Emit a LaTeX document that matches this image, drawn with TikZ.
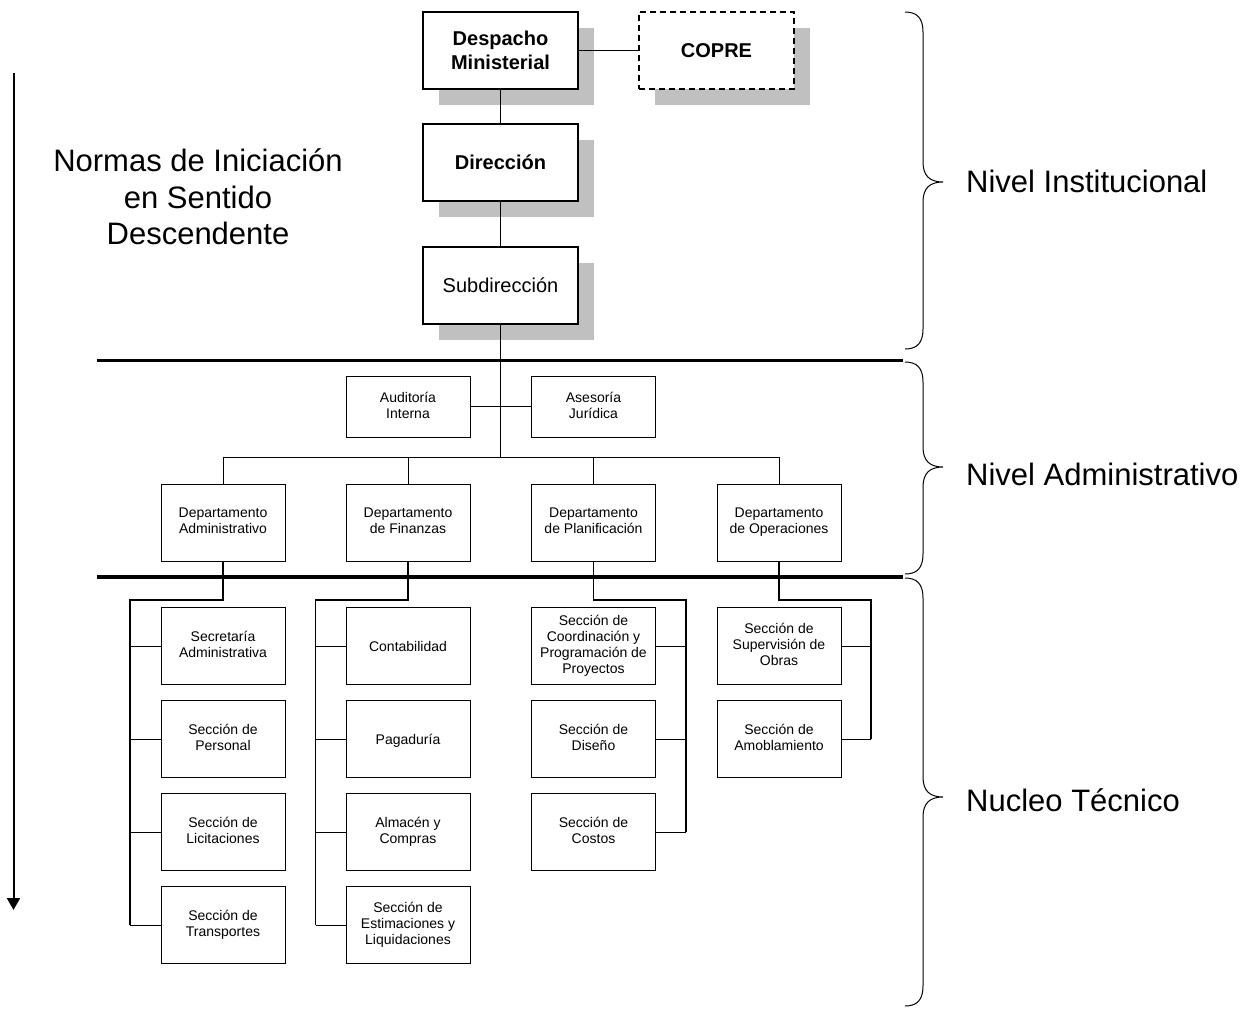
\documentclass[tikz,border=0pt]{standalone}
\usepackage{fontspec}
\setmainfont{Liberation Sans}
\usetikzlibrary{arrows.meta,shadows}
\definecolor{shadowgray}{RGB}{192,192,192}
% line strut for the unit boxes: 13pt above, 3pt below the baseline
\newcommand{\unitstrut}{\rule[-3pt]{0pt}{16pt}}

\begin{document}
\begin{tikzpicture}[x=1pt,y=-1pt,
  topbox/.style={draw, line width=1.2pt, fill=white, minimum width=155pt, minimum height=77pt,
    inner sep=0pt, align=center, font=\fontsize{20}{24}\selectfont,
    drop shadow={shadow xshift=16pt, shadow yshift=-16pt, fill=shadowgray, opacity=1}},
  unitbox/.style={draw, line width=1pt, fill=white, minimum width=124pt, minimum height=77pt,
    inner sep=0pt, align=center, font=\fontsize{14}{16}\selectfont,
    execute at begin node=\unitstrut, execute at end node=\unitstrut},
  staffbox/.style={unitbox, minimum height=61pt},
  link/.style={line width=0.9pt},
  trunk/.style={line width=1.9pt},
  divider/.style={line width=3.5pt},
  bracepath/.style={line width=1pt},
  levellabel/.style={anchor=west, inner sep=0pt, font=\fontsize{31}{37}\selectfont}]

\useasboundingbox (0,0) rectangle (1243,1010);

% --- upper management ---
\node[topbox] (desp) at (500.5,50.5) {\bfseries Despacho\\\bfseries Ministerial};
\node[topbox, dashed, dash pattern=on 6pt off 4pt] (copre) at (716.5,50.5) {\bfseries COPRE};
\node[topbox] (dir) at (500.5,162.5) {\bfseries Dirección};
\node[topbox] (sub) at (500.5,285.5) {Subdirección};

\draw[link] (desp) -- (dir);
\draw[link] (dir) -- (sub);
\draw[link] (desp.east) -- (copre.west);

% --- horizontal level dividers ---
\coordinate (d1l) at (97,360.5);  \coordinate (d1r) at (903,360.5);
\coordinate (d2l) at (97,577);    \coordinate (d2r) at (903,577);

% --- staff units and departments ---
\node[staffbox] (aud) at (408,406.5) {Auditoría\\Interna};
\node[staffbox] (ase) at (593.5,406.5) {Asesoría\\Jurídica};

\node[unitbox] (dadm) at (223,522.5) {Departamento\\Administrativo};
\node[unitbox] (dfin) at (408,522.5) {Departamento\\de Finanzas};
\node[unitbox] (dpla) at (593.5,522.5) {Departamento\\de Planificación};
\node[unitbox] (dope) at (779,522.5) {Departamento\\de Operaciones};

\coordinate (bar) at (500.5,457);
\draw[trunk] (sub.south) -- (sub.south |- bar);
\draw[link] (aud) -- (ase);
\draw[link] (dadm.north) -- (dadm.north |- bar) -- (dope.north |- bar) -- (dope.north);
\draw[link] (dfin.north) -- (dfin.north |- bar);
\draw[link] (dpla.north) -- (dpla.north |- bar);

% --- sections ---
\node[unitbox] (a1) at (223,646) {Secretaría\\Administrativa};
\node[unitbox] (a2) at (223,739) {Sección de\\Personal};
\node[unitbox] (a3) at (223,832) {Sección de\\Licitaciones};
\node[unitbox] (a4) at (223,925) {Sección de\\Transportes};

\node[unitbox] (f1) at (408,646) {Contabilidad};
\node[unitbox] (f2) at (408,739) {Pagaduría};
\node[unitbox] (f3) at (408,832) {Almacén y\\Compras};
\node[unitbox] (f4) at (408,925) {Sección de\\Estimaciones y\\Liquidaciones};

\node[unitbox] (p1) at (593.5,646) {Sección de\\Coordinación y\\Programación de\\Proyectos};
\node[unitbox] (p2) at (593.5,739) {Sección de\\Diseño};
\node[unitbox] (p3) at (593.5,832) {Sección de\\Costos};

\node[unitbox] (o1) at (779,646) {Sección de\\Supervisión de\\Obras};
\node[unitbox] (o2) at (779,739) {Sección de\\Amoblamiento};

% trunks feeding each column of sections
\coordinate (ta) at (130,600);
\coordinate (tf) at (315.5,600);
\coordinate (tp) at (686,600);
\coordinate (to) at (871,600);

\draw[trunk] (dadm.south) |- (ta) -- (ta |- a4);
\draw[trunk] (dfin.south) |- (tf) -- (tf |- f4);
\draw[trunk] (dpla.south) |- (tp) -- (tp |- p3);
\draw[trunk] (dope.south) |- (to) -- (to |- o2);

\foreach \n in {a1,a2,a3,a4} \draw[link] (ta |- \n) -- (\n.west);
\foreach \n in {f1,f2,f3,f4} \draw[link] (tf |- \n) -- (\n.west);
\foreach \n in {p1,p2,p3} \draw[link] (tp |- \n) -- (\n.east);
\foreach \n in {o1,o2} \draw[link] (to |- \n) -- (\n.east);

\draw[divider] (d1l) -- (d1r);
\draw[divider] (d2l) -- (d2r);

% --- direction of the norms ---
\node[align=center, inner sep=0pt, font=\fontsize{31}{36.5}\selectfont] (normas) at (198,197)
  {Normas de Iniciación\\en Sentido\\Descendente};
\coordinate (atop) at (13.5,73);
\coordinate (abot) at (13.5,910);
\draw[line width=2pt, -{Triangle[width=13pt,length=12pt]}] (atop) -- (abot);

% --- level braces ---
\foreach \t/\m/\b in {12/182/349, 362/467/574, 578/797/1006}{
  \draw[bracepath] (905,\t) .. controls (917,\t) and (923,\t+6) .. (923,\t+20)
    -- (923,\m-20) .. controls (923,\m-6) and (930,\m) .. (943,\m)
    .. controls (930,\m) and (923,\m+6) .. (923,\m+20)
    -- (923,\b-20) .. controls (923,\b-6) and (917,\b) .. (905,\b);
}

\node[levellabel] (lv1) at (966,181) {Nivel Institucional};
\node[levellabel] (lv2) at (966,474) {Nivel Administrativo};
\node[levellabel] (lv3) at (966,800) {Nucleo Técnico};

\end{tikzpicture}
\end{document}
